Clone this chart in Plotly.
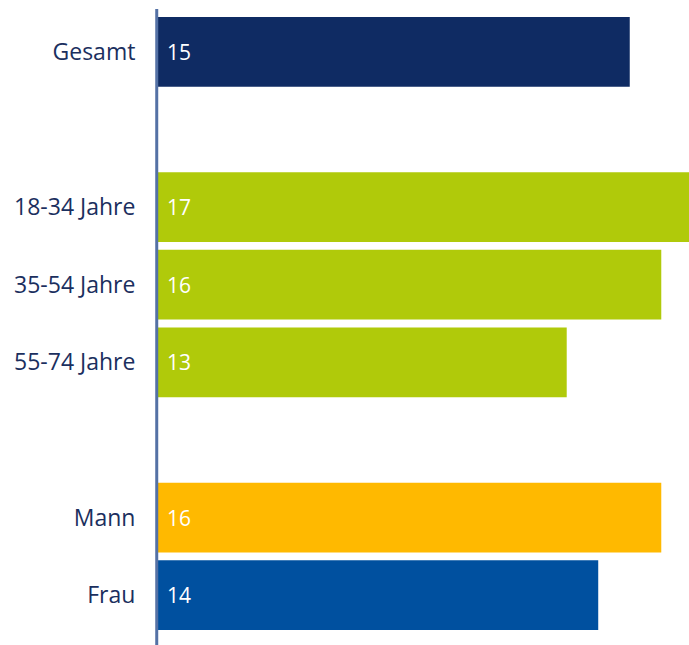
import plotly.graph_objects as go

categories = ["Gesamt", " ", "18-34 Jahre", "35-54 Jahre", "55-74 Jahre", "  ", "Mann", "Frau"]
values = [15, None, 17, 16, 13, None, 16, 14]
colors = ["#0f2b63", "#ffffff", "#b0ca0a", "#b0ca0a", "#b0ca0a", "#ffffff", "#ffb900", "#00509f"]

FONT = "Open Sans"
W, H = 689, 645
T, B = 13, 11
PH = H - T - B

fig = go.Figure()
fig.add_trace(go.Bar(
    y=categories, x=values, orientation="h",
    marker=dict(color=colors, line=dict(width=0)),
    hoverinfo="skip",
))
for c, v in zip(categories, values):
    if v is not None:
        fig.add_annotation(x=0, y=c, text=str(v), showarrow=False, xanchor="left",
                           xshift=8, font=dict(family=FONT, size=21, color="white"))

fig.add_shape(type="line", xref="paper", yref="paper", x0=-0.0005, x1=-0.0005,
              y0=-B / PH, y1=1 + 4 / PH,
              line=dict(color="#5471a5", width=3))

fig.update_layout(
    width=W, height=H,
    margin=dict(l=157, r=0, t=T, b=B),
    paper_bgcolor="white", plot_bgcolor="white",
    bargap=0.1, showlegend=False,
    font=dict(family=FONT, color="#1b2f5e"),
    xaxis=dict(range=[0, 16.88], visible=False, fixedrange=True),
    yaxis=dict(autorange="reversed", showgrid=False, zeroline=False, showline=False,
               fixedrange=True,
               ticks="outside", ticklen=16, tickcolor="rgba(0,0,0,0)",
               tickfont=dict(family=FONT, size=23, color="#1b2f5e")),
)
fig.write_html("out.html", config={"displayModeBar": False, "staticPlot": True},
               post_script="document.body.style.margin='0';document.body.style.overflow='hidden';")
